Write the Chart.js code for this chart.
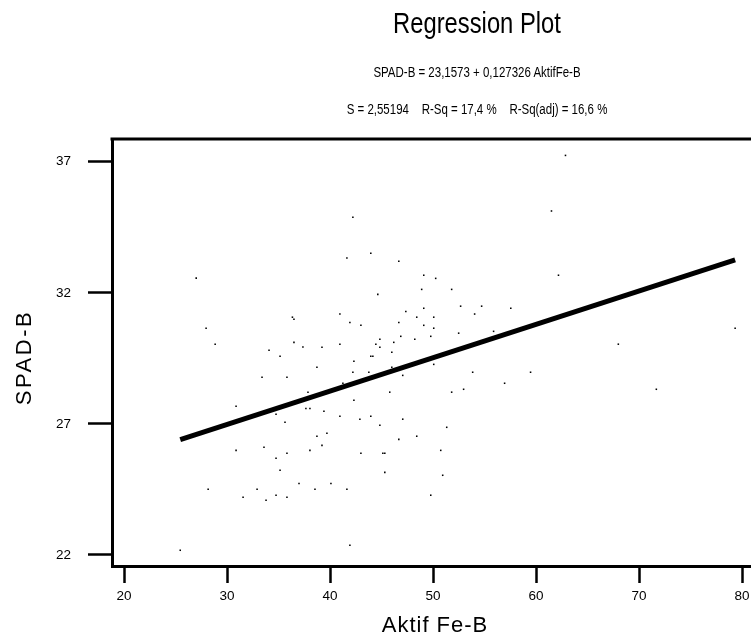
<!DOCTYPE html>
<html>
<head>
<meta charset="utf-8">
<script src="https://cdn.jsdelivr.net/npm/chart.js@4.4.1/dist/chart.umd.min.js"></script>
<style>
html,body{margin:0;padding:0;background:#fff;overflow:hidden;width:751px;height:640px;}
#wrap{position:relative;width:751px;height:640px;overflow:hidden;background:#fff;}
canvas{position:absolute;left:0;top:0;}
.t{position:absolute;left:0;width:954px;text-align:center;white-space:pre;color:#000;transform-origin:477px 50%;}
</style>
</head>
<body>
<div id="wrap">
<canvas id="c" width="770" height="640"></canvas>
<div class="t" id="t1">Regression Plot</div>
<div class="t" id="t2">SPAD-B = 23,1573 + 0,127326 AktifFe-B</div>
<div class="t" id="t3">S = 2,55194    R-Sq = 17,4 %    R-Sq(adj) = 16,6 %</div>
</div>
<script>
// ---- data ----
const aktifFe = [27.01,36.35,36.50,27.97,28.85,36.50,37.37,42.22,43.96,41.64,
46.68,49.10,50.26,48.90,51.81,44.64,52.68,54.72,57.55,49.10,
47.36,40.96,54.04,48.42,50.07,41.93,46.68,43.00,49.10,50.07,
52.49,55.88,46.87,49.78,44.84,48.23,46.19,40.96,44.45,44.84,
39.22,62.86,61.50,62.18,79.33,67.99,34.08,35.15,38.73,33.40,
35.82,37.86,30.88,34.76,37.66,38.05,35.63,38.73,30.88,33.59,
35.82,38.05,34.76,35.15,36.99,28.17,32.92,38.54,31.56,33.79,
34.76,35.82,25.46,43.96,44.16,46.00,42.32,46.00,42.22,43.77,
47.06,50.07,53.85,56.95,41.25,45.80,51.81,52.97,42.32,39.41,
40.96,42.90,43.96,47.06,44.84,51.33,39.70,46.68,48.42,39.22,
43.00,45.13,45.32,50.75,45.32,50.94,40.09,41.64,49.78,41.93,
59.47,71.68];
const spadB = [32.56,31.07,30.99,30.65,30.04,30.11,29.93,34.88,33.51,33.33,
33.20,32.67,32.55,32.13,32.13,31.94,31.49,31.49,31.41,31.41,
31.29,31.19,31.19,31.07,31.07,30.87,30.87,30.76,30.76,30.65,
30.46,30.53,30.34,30.34,30.23,30.23,30.11,30.04,30.04,29.92,
29.92,37.24,35.12,32.67,30.65,30.04,29.81,29.58,29.16,28.78,
28.78,28.21,27.67,27.37,27.59,27.59,27.06,26.53,25.99,26.11,
25.88,25.99,25.69,25.23,24.73,24.51,24.51,24.51,24.20,24.09,
24.28,24.20,22.18,29.58,29.58,29.73,29.39,29.16,28.97,28.97,
28.85,29.27,28.97,28.55,28.55,28.21,28.21,28.32,27.90,27.48,
27.29,27.18,27.29,27.18,26.95,26.87,26.64,26.41,26.53,26.18,
25.88,25.88,25.88,25.99,25.15,25.04,24.73,24.51,24.28,22.37,
28.97,28.32];
// fitted line end points
const fitX = [25.46, 79.33];
const fitY = [26.40, 33.26];
const xTickValues = [20,30,40,50,60,70,80];
const yTickValues = [22,27,32,37];
const xTickLabels = ['20','30','40','50','60','70','80'];
const yTickLabels = ['22','27','32','37'];
const titleText = 'Regression Plot';
const xTitle = 'Aktif Fe-B';
const yTitle = 'SPAD-B';

// ---- font detection ----
function hasFont(name){
  const c = document.createElement('canvas').getContext('2d');
  const s = 'SPAD-B Aktif 0123456789 Regression';
  c.font = '40px monospace'; const a = c.measureText(s).width;
  c.font = '40px "' + name + '", monospace'; const b = c.measureText(s).width;
  return Math.abs(a-b) > 0.5;
}
const narrow = hasFont('Liberation Sans Narrow');
const FAM = narrow ? '"Liberation Sans Narrow", "Liberation Sans", Arial, sans-serif' : '"Liberation Sans", Arial, sans-serif';

function styleT(id, size, top){
  const el = document.getElementById(id);
  el.style.fontFamily = FAM;
  el.style.fontSize = size + 'px';
  el.style.lineHeight = size + 'px';
  el.style.top = top + 'px';
  if (!narrow) el.style.transform = 'scaleX(0.82)';
}
document.getElementById('t1').textContent = titleText;
styleT('t1', 29, 8.5);
styleT('t2', 14, 65);
styleT('t3', 14, 102);

const tickSize = narrow ? 15 : 13.5;
const axisTitleSize = narrow ? 25 : 22;

const titleTweaks = {
  x: {spacing: '1px', dx: 0, dy: 0},
  y: {spacing: '2.5px', dx: 0, dy: 5}
};
const wrapTitles = {
  id: 'wrapTitles',
  afterLayout(chart){
    ['x','y'].forEach(id => {
      const s = chart.scales[id];
      if (s && !s.__wrapped){
        const orig = s.drawTitle.bind(s);
        s.drawTitle = function(){
          const ctx = this.ctx;
          const tw = titleTweaks[id];
          ctx.save();
          ctx.letterSpacing = tw.spacing;
          ctx.translate(tw.dx, tw.dy);
          orig();
          ctx.restore();
        };
        s.__wrapped = true;
      }
    });
  }
};
const frame = {
  id: 'frame',
  afterDraw(chart){
    const {ctx, chartArea:a} = chart;
    ctx.save();
    ctx.strokeStyle = '#000';
    ctx.lineWidth = 3;
    ctx.beginPath();
    ctx.moveTo(a.left - 1.5, a.top);
    ctx.lineTo(a.right, a.top);
    ctx.lineTo(a.right, a.bottom);
    ctx.stroke();
    ctx.restore();
  }
};

const points = aktifFe.map((x,i) => ({x:x, y:spadB[i]}));
const fit = fitX.map((x,i) => ({x:x, y:fitY[i]}));

new Chart(document.getElementById('c'), {
  type: 'scatter',
  data: {
    datasets: [
      {label:'data', data: points, pointStyle:'rect', pointRadius:1.1, pointHoverRadius:1.1,
       backgroundColor:'#000', borderWidth:0, order:2},
      {label:'fit', data: fit, showLine:true, pointRadius:0, borderColor:'#000',
       borderWidth:5, borderCapStyle:'butt', fill:false, order:1}
    ]
  },
  options: {
    responsive:false, devicePixelRatio:1, animation:false,
    layout:{padding:{top:139, right:12, left:0, bottom:0}},
    plugins:{legend:{display:false}, title:{display:false}, tooltip:{enabled:false}},
    events: [],
    scales:{
      x:{
        type:'linear', position:'bottom', min:18.835, max:81.55,
        afterBuildTicks: s => { s.ticks = xTickValues.map(v => ({value:v})); },
        afterFit: s => { s.height = 74; },
        ticks:{color:'#000', font:{family:FAM, size:tickSize}, padding:5, maxRotation:0, autoSkip:false,
          callback: v => { const i = xTickValues.indexOf(v); return i >= 0 ? xTickLabels[i] : ''; }},
        grid:{drawOnChartArea:false, drawTicks:true, tickLength:17, tickWidth:2.5, tickColor:'#000'},
        border:{display:true, color:'#000', width:3},
        title:{display:true, text:xTitle, color:'#000', font:{family:FAM, size:axisTitleSize}, padding:{top:0, bottom:1}}
      },
      y:{
        type:'linear', position:'left', min:21.58, max:37.866,
        afterBuildTicks: s => { s.ticks = yTickValues.map(v => ({value:v})); },
        afterFit: s => { s.width = 112; },
        ticks:{color:'#000', font:{family:FAM, size:tickSize}, padding:17, autoSkip:false,
          callback: v => { const i = yTickValues.indexOf(v); return i >= 0 ? yTickLabels[i] : ''; }},
        grid:{drawOnChartArea:false, drawTicks:true, tickLength:24, tickWidth:2.5, tickColor:'#000'},
        border:{display:true, color:'#000', width:3},
        title:{display:true, text:yTitle, color:'#000', font:{family:FAM, size:axisTitleSize}, padding:{top:12, bottom:0}}
      }
    }
  },
  plugins:[wrapTitles, frame]
});
</script>
</body>
</html>
